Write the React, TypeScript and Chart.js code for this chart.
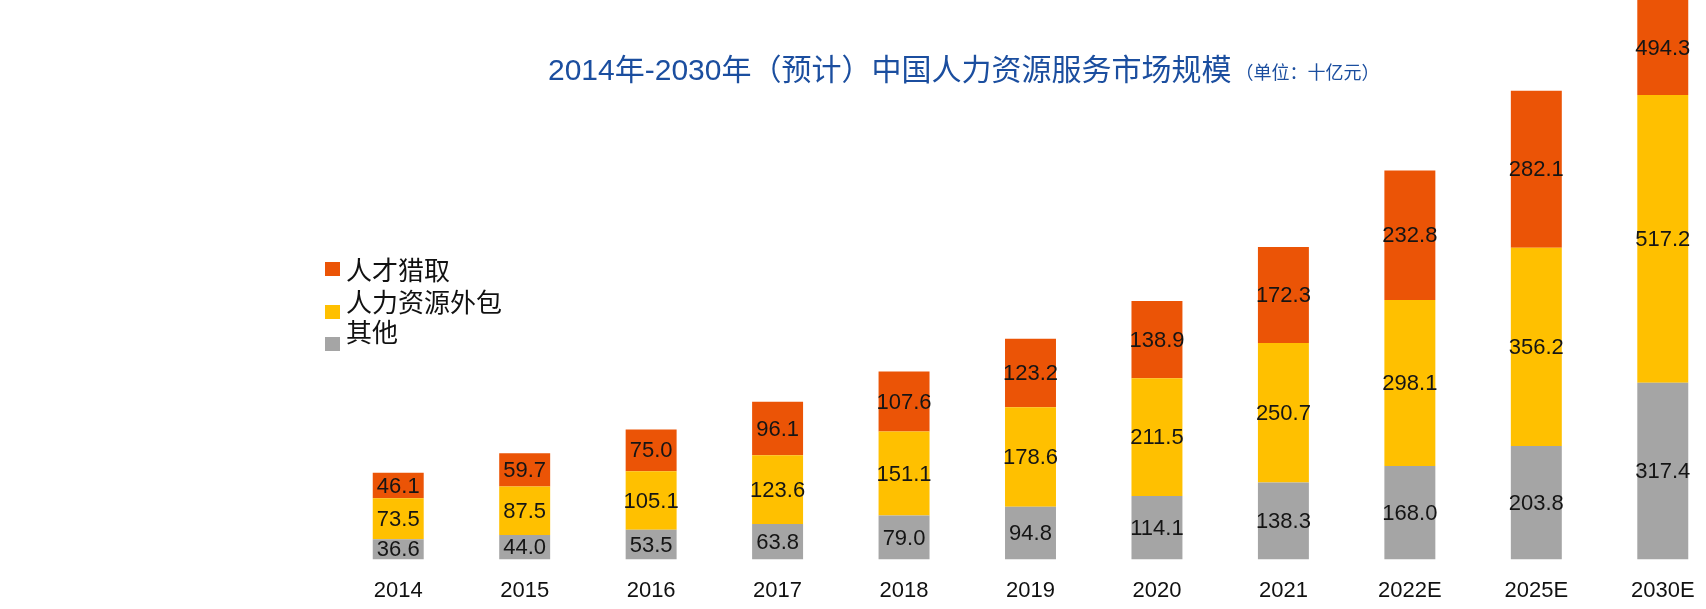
import React, { useEffect, useRef } from "react";
import { Chart, registerables } from "chart.js";

Chart.register(...registerables);

const categories = ["2014", "2015", "2016", "2017", "2018", "2019", "2020", "2021", "2022E", "2025E", "2030E"];
const otherValues = [36.6, 44.0, 53.5, 63.8, 79.0, 94.8, 114.1, 138.3, 168.0, 203.8, 317.4];
const outsourcingValues = [73.5, 87.5, 105.1, 123.6, 151.1, 178.6, 211.5, 250.7, 298.1, 356.2, 517.2];
const headhuntingValues = [46.1, 59.7, 75.0, 96.1, 107.6, 123.2, 138.9, 172.3, 232.8, 282.1, 494.3];
const seriesNames = ["人才猎取", "人力资源外包", "其他"];
const titleText = "2014年-2030年（预计）中国人力资源服务市场规模";
const subtitleText = "（单位：十亿元）";

const ORANGE = "#EB5406";
const YELLOW = "#FFC000";
const GRAY = "#A5A5A5";

const labelPlugin = {
  id: "segLabels",
  afterDatasetsDraw(chart: any) {
    const { ctx, chartArea } = chart;
    ctx.save();
    ctx.font = '22px "Liberation Sans", Arial, sans-serif';
    ctx.fillStyle = "#151515";
    ctx.textAlign = "center";
    ctx.textBaseline = "middle";
    chart.data.datasets.forEach((ds: any, i: number) => {
      const meta = chart.getDatasetMeta(i);
      meta.data.forEach((el: any, j: number) => {
        const top = Math.max(Math.min(el.y, el.base), chartArea.top);
        const bottom = Math.max(el.y, el.base);
        const y = (top + bottom) / 2;
        ctx.fillText(Number(ds.data[j]).toFixed(1), el.x, y + 1);
      });
    });
    ctx.restore();
  },
};

const decorPlugin = {
  id: "decor",
  afterDraw(chart: any) {
    const { ctx } = chart;
    ctx.save();
    ctx.textBaseline = "middle";
    ctx.textAlign = "left";
    ctx.fillStyle = "#1B4E9F";
    ctx.font = '30px "Liberation Sans", "Noto Sans CJK SC", sans-serif';
    const tx = 548;
    ctx.fillText(titleText, tx, 72);
    const w = ctx.measureText(titleText).width;
    ctx.font = '18px "Liberation Sans", "Noto Sans CJK SC", sans-serif';
    ctx.fillText(subtitleText, tx + w + 4, 74);
    const colors = [ORANGE, YELLOW, GRAY];
    const textY = [270, 302, 332];
    const boxY = [262, 305, 337];
    ctx.font = '26px "Noto Sans CJK SC", sans-serif';
    for (let i = 0; i < 3; i++) {
      ctx.fillStyle = colors[i];
      ctx.fillRect(325, boxY[i], 15, 14);
      ctx.fillStyle = "#111";
      ctx.fillText(seriesNames[i], 346, textY[i]);
    }
    ctx.restore();
  },
};

export default function App() {
  const ref = useRef<HTMLCanvasElement>(null);
  useEffect(() => {
    if (!ref.current) return;
    const chart = new Chart(ref.current, {
      type: "bar",
      data: {
        labels: categories,
        datasets: [
          { label: seriesNames[2], data: otherValues, backgroundColor: GRAY },
          { label: seriesNames[1], data: outsourcingValues, backgroundColor: YELLOW },
          { label: seriesNames[0], data: headhuntingValues, backgroundColor: ORANGE },
        ],
      },
      options: {
        responsive: false,
        animation: false,
        layout: { padding: { left: 335, right: 4, top: 0, bottom: 8 } },
        plugins: { legend: { display: false }, title: { display: false }, tooltip: { enabled: false } },
        datasets: { bar: { categoryPercentage: 1, barPercentage: 0.403 } },
        scales: {
          x: {
            stacked: true,
            grid: { display: false, drawTicks: false },
            border: { display: false },
            ticks: {
              color: "#111",
              padding: 18,
              maxRotation: 0,
              font: { size: 22, family: '"Liberation Sans", Arial, sans-serif' },
            },
          },
          y: { stacked: true, display: false, min: 0, max: 1005 },
        },
      },
      plugins: [labelPlugin, decorPlugin],
    } as any);
    return () => chart.destroy();
  }, []);
  return (
    <div style={{ position: "fixed", left: 0, top: 0, width: 1706, height: 609, overflow: "hidden", background: "#fff" }}>
      <canvas ref={ref} width={1730} height={630} style={{ display: "block" }} />
    </div>
  );
}
